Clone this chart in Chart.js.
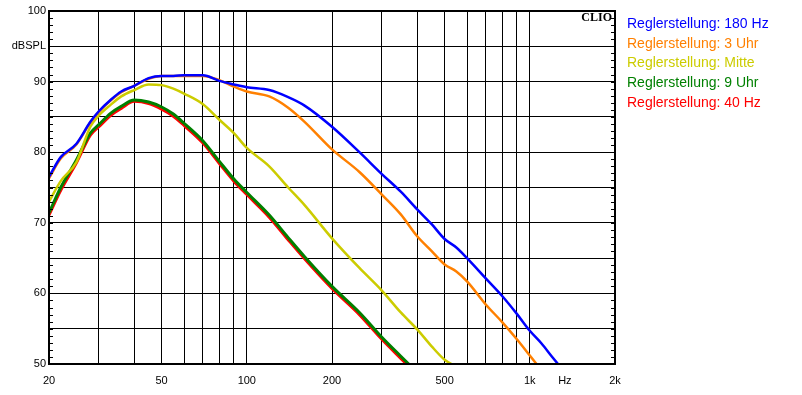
<!DOCTYPE html>
<html>
<head>
<meta charset="utf-8">
<script src="https://cdn.jsdelivr.net/npm/chart.js@4.4.1/dist/chart.umd.min.js"></script>
<style>
  html, body { margin: 0; padding: 0; background: #fff; }
  #wrap { width: 802px; height: 395px; }
</style>
</head>
<body>
<div id="wrap"><canvas id="freqChart" width="802" height="395"></canvas></div>
<script>
// frequency points (Hz) shared by all curves
const freqs = [20, 22, 25, 28, 30, 33, 36, 40, 45, 50, 55, 60, 70, 80, 90, 100, 120, 140, 160,
               200, 250, 300, 350, 400, 450, 500, 550, 600, 700, 800, 900, 1000, 1100, 1200, 1300];

// dBSPL per curve
const level180Hz = [76.5, 79.3, 81.2, 84.3, 85.8, 87.4, 88.6, 89.4, 90.5, 90.8, 90.8, 90.9, 90.9, 90.1, 89.6, 89.2, 88.8, 87.8, 86.6,
                    83.6, 80.0, 76.9, 74.4, 71.9, 69.8, 67.7, 66.5, 65.0, 62.1, 59.6, 57.1, 54.7, 52.9, 51.0, 49.3];
const level3Uhr = [76.3, 79.1, 81.1, 84.2, 85.7, 87.3, 88.5, 89.4, 90.4, 90.8, 90.8, 90.8, 90.8, 90.2, 89.3, 88.6, 87.9, 86.3, 84.3,
                   80.4, 77.2, 74.0, 71.2, 68.1, 66.0, 64.1, 63.1, 61.7, 58.4, 55.9, 53.5, 51.2, 49.1, null, null];
const levelMitte = [73.0, 75.9, 78.6, 83.6, 85.2, 86.7, 87.9, 88.8, 89.6, 89.5, 89.0, 88.3, 86.8, 84.6, 82.7, 80.6, 78.0, 75.0, 72.5,
                    67.8, 63.6, 60.4, 57.3, 54.9, 52.5, 50.6, 49.6, null, null, null, null, null, null, null, null];
const level9Uhr = [71.4, 75.0, 78.9, 82.7, 83.9, 85.5, 86.5, 87.4, 87.1, 86.4, 85.4, 84.1, 81.6, 78.7, 76.2, 74.3, 71.1, 67.9, 65.2,
                   61.0, 57.3, 53.8, 51.1, 48.8, null, null, null, null, null, null, null, null, null, null, null];
const level40Hz = [71.1, 74.6, 78.5, 82.4, 83.6, 85.2, 86.2, 87.2, 86.9, 86.1, 85.1, 83.8, 81.3, 78.4, 75.9, 74.0, 70.8, 67.6, 64.9,
                   60.7, 57.0, 53.5, 50.8, 48.5, null, null, null, null, null, null, null, null, null, null, null];

const xGridValues = [20, 30, 40, 50, 60, 70, 80, 90, 100, 200, 300, 400, 500, 600, 700, 800, 900, 1000, 1330, 2000];
const xLabels = { 20: '20', 50: '50', 100: '100', 200: '200', 500: '500', 1000: '1k', 1330: 'Hz', 2000: '2k' };

const toPoints = (values) => freqs.map((f, i) => ({ x: f, y: values[i] }));

const series = [
    { label: 'Reglerstellung: 180 Hz', data: level180Hz, color: '#0000ff', width: 2.5 },
    { label: 'Reglerstellung: 3 Uhr', data: level3Uhr, color: '#ff8000', width: 2.5 },
    { label: 'Reglerstellung: Mitte', data: levelMitte, color: '#cccc00', width: 2.5 },
    { label: 'Reglerstellung: 9 Uhr', data: level9Uhr, color: '#008000', width: 3 },
    { label: 'Reglerstellung: 40 Hz', data: level40Hz, color: '#ff0000', width: 3 }
];

const clioFrame = {
    id: 'clioFrame',
    afterDatasetsDraw(chart) {
        const c = chart.ctx;
        const a = chart.chartArea;
        const y = chart.scales.y;
        c.save();
        // small 1 dB ticks inside left and right edges
        c.strokeStyle = '#000';
        c.lineWidth = 1;
        c.beginPath();
        for (let v = 51; v < 100; v++) {
            const py = Math.round(y.getPixelForValue(v)) + 0.5;
            c.moveTo(a.left, py); c.lineTo(a.left + 4, py);
            c.moveTo(a.right - 4, py); c.lineTo(a.right, py);
        }
        c.stroke();
        // thick frame
        c.lineWidth = 2;
        c.strokeRect(a.left, a.top, a.right - a.left, a.bottom - a.top);
        // CLIO tag
        c.fillStyle = '#000';
        c.font = 'bold 12px "Liberation Serif", "Times New Roman", serif';
        c.textAlign = 'right';
        c.textBaseline = 'alphabetic';
        c.fillText('CLIO', a.right - 3, a.top + 10);
        // legend
        c.font = '14px "Liberation Sans", Arial, sans-serif';
        c.textAlign = 'left';
        c.textBaseline = 'middle';
        chart.data.datasets.forEach((ds, i) => {
            c.fillStyle = ds.borderColor;
            c.fillText(ds.label, 627, 24 + i * 19.8);
        });
        c.restore();
    }
};

new Chart(document.getElementById('freqChart'), {
    type: 'line',
    data: {
        datasets: series.map(s => ({
            label: s.label,
            data: toPoints(s.data),
            borderColor: s.color,
            backgroundColor: s.color,
            borderWidth: s.width,
            pointRadius: 0,
            cubicInterpolationMode: 'monotone',
            clip: 0
        }))
    },
    options: {
        responsive: false,
        animation: false,
        layout: { padding: { top: 11, right: 187, left: 0, bottom: 0 } },
        plugins: {
            legend: { display: false },
            tooltip: { enabled: false }
        },
        scales: {
            x: {
                type: 'logarithmic',
                min: 20,
                max: 2000,
                afterBuildTicks: (scale) => {
                    scale.ticks = xGridValues.map(v => ({ value: v }));
                },
                afterFit: (scale) => { scale.height = 31; },
                border: { color: '#000', width: 2 },
                grid: {
                    color: (ctx) => (ctx.tick && ctx.tick.value === 1330 ? 'rgba(0,0,0,0)' : '#000'),
                    lineWidth: 1,
                    drawTicks: false
                },
                ticks: {
                    autoSkip: false,
                    maxRotation: 0,
                    padding: 10,
                    color: '#000',
                    font: { family: '"Liberation Sans", Arial, sans-serif', size: 11 },
                    callback: (value) => xLabels[value] || ''
                }
            },
            y: {
                min: 50,
                max: 100,
                afterFit: (scale) => { scale.width = 49; },
                border: { color: '#000', width: 2 },
                grid: { color: '#000', lineWidth: 1, drawTicks: false },
                ticks: {
                    stepSize: 5,
                    padding: 3,
                    color: '#000',
                    font: { family: '"Liberation Sans", Arial, sans-serif', size: 11 },
                    callback: (value) => (value % 10 === 0 ? String(value) : (value === 95 ? 'dBSPL' : ''))
                }
            }
        }
    },
    plugins: [clioFrame]
});
</script>
</body>
</html>
